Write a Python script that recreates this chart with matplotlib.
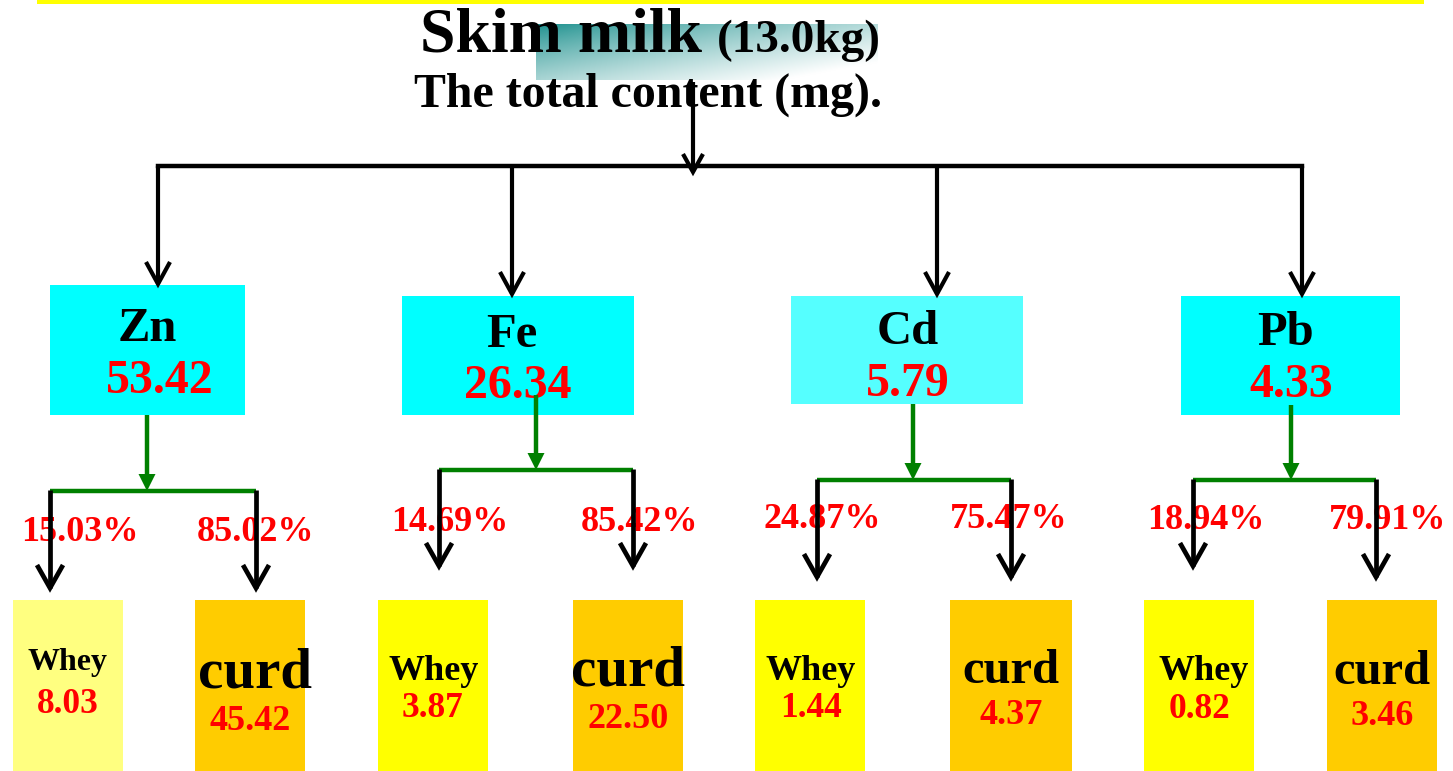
import numpy as np
import matplotlib
matplotlib.use("Agg")
import matplotlib.pyplot as plt
from matplotlib.patches import Rectangle, Polygon

# ---------------- data ----------------
title_main = "Skim milk"
title_mass = "(13.0kg)"
subtitle = "The total content (mg)."
elements = ["Zn", "Fe", "Cd", "Pb"]
totals = [53.42, 26.34, 5.79, 4.33]
whey_pct = [15.03, 14.69, 24.87, 18.94]
curd_pct = [85.02, 85.42, 75.47, 79.91]
whey_mg = [8.03, 3.87, 1.44, 0.82]
curd_mg = [45.42, 22.50, 4.37, 3.46]
whey_label = "Whey"
curd_label = "curd"

# ---------------- layout (pixel coordinates) ----------------
W, H = 1453, 771
box_l = [50, 402, 791, 1181]
box_r = [245, 634, 1023, 1400]
box_t = [285, 296, 296, 296]
box_b = [415, 415, 404, 415]
box_colors = ["#00ffff", "#00ffff", "#55ffff", "#00ffff"]
top_x = [158, 512, 937, 1302]
top_tip = [284, 294, 294, 294]
name_x = [147, 512, 908, 1285]
name_y = [341, 347, 344, 345]
total_x = [160, 518, 908, 1291]
total_y = [393, 398, 396, 397]
green_x = [147, 536, 913, 1291]
green_top = [415, 395, 404, 405]
green_y = [491, 470, 480, 480]
split_l = [50, 439, 817, 1193]
split_r = [256, 633, 1011, 1376]
tip_l = [588, 566, 577, 566]
tip_r = [588, 566, 577, 577]
pct_l_x = [80, 450, 822, 1206]
pct_r_x = [255, 639, 1009, 1388]
pct_y = [541, 531, 528, 529]
whey_l = [13, 378, 755, 1144]
whey_r = [123, 488, 865, 1254]
curd_l = [195, 573, 950, 1327]
curd_r = [305, 683, 1072, 1437]
low_top = 600
whey_colors = ["#ffff80", "#ffff00", "#ffff00", "#ffff00"]
whey_lx = [68, 434, 811, 1204]
whey_ly = [670, 680, 680, 680]
whey_ls = [23, 26, 26, 26]
whey_vx = [68, 432, 811, 1199]
whey_vy = [713, 717, 717, 718]
curd_lx = [255, 628, 1011, 1382]
curd_ly = [687, 686, 683, 684]
curd_ls = [41, 41, 35, 35]
curd_vx = [250, 628, 1011, 1382]
curd_vy = [730, 728, 724, 725]

FONT = "Liberation Serif"
RED = "#ff0000"
GREEN = "#008000"

fig = plt.figure(figsize=(W / 100, H / 100), dpi=100)
ax = fig.add_axes([0, 0, 1, 1])
ax.set_xlim(0, W)
ax.set_ylim(H, 0)
ax.axis("off")


def txt(x, y, s, size, color="black"):
    ax.text(x, y, s, fontsize=size, color=color, family=FONT,
            fontweight="bold", ha="center", va="baseline", zorder=3)


def open_arrow(x, y0, y1, lw=3.0, hw=12, hl=22, color="black"):
    ax.plot([x, x], [y0, y1], color=color, lw=lw, solid_capstyle="butt", zorder=5)
    ax.plot([x - hw, x, x + hw], [y1 - hl, y1, y1 - hl], color=color, lw=lw,
            solid_joinstyle="miter", solid_capstyle="butt", zorder=5)


# top yellow line
ax.add_patch(Rectangle((37, 0), 1387, 3.5, color="#ffff00", lw=0, zorder=1))

# gradient rectangle behind title
gx = np.linspace(0, 1, 200)
gy = np.linspace(0, 1, 60)
GX, GY = np.meshgrid(gx, gy)
t = np.clip(0.62 * GX + 0.55 * GY, 0, 1) ** 0.8
teal = np.array([0.10, 0.56, 0.55])
white = np.array([1.0, 1.0, 1.0])
img = teal[None, None, :] * (1 - t[..., None]) + white[None, None, :] * t[..., None]
ax.imshow(img, extent=(536, 878, 80, 24), aspect="auto", zorder=1, interpolation="bilinear")

# title texts
ax.text(420, 52, title_main, fontsize=46, family=FONT, fontweight="bold",
        ha="left", va="baseline", zorder=3)
ax.text(717, 52, title_mass, fontsize=34, family=FONT, fontweight="bold",
        ha="left", va="baseline", zorder=3)
ax.text(648, 107, subtitle, fontsize=34.5, family=FONT, fontweight="bold",
        ha="center", va="baseline", zorder=3)

# central arrow and bar
open_arrow(693, 82, 172, lw=3.0, hw=10, hl=18)
ax.plot([top_x[0], top_x[-1]], [166, 166], color="black", lw=3.2, zorder=5,
        solid_capstyle="projecting")

for i in range(4):
    open_arrow(top_x[i], 166, top_tip[i])
    # element box
    ax.add_patch(Rectangle((box_l[i], box_t[i]), box_r[i] - box_l[i],
                           box_b[i] - box_t[i], color=box_colors[i], lw=0, zorder=1))
    txt(name_x[i], name_y[i], elements[i], 35)
    txt(total_x[i], total_y[i], f"{totals[i]:.2f}", 34.5, RED)
    # green split arrow
    gyv = green_y[i]
    ax.plot([green_x[i], green_x[i]], [green_top[i], gyv - 14], color=GREEN, lw=3.2,
            solid_capstyle="butt", zorder=5)
    ax.add_patch(Polygon([[green_x[i] - 8.5, gyv - 17], [green_x[i] + 8.5, gyv - 17],
                          [green_x[i], gyv]], closed=True, color=GREEN, lw=0, zorder=5))
    ax.plot([split_l[i], split_r[i]], [gyv, gyv], color=GREEN, lw=3.2,
            solid_capstyle="butt", zorder=5)
    # black arrows to whey / curd
    open_arrow(split_l[i], gyv - 1.5, tip_l[i], lw=3.4, hw=13, hl=23)
    open_arrow(split_r[i], gyv - 1.5, tip_r[i], lw=3.4, hw=13, hl=23)
    txt(pct_l_x[i], pct_y[i], f"{whey_pct[i]:.2f}%", 26, RED)
    txt(pct_r_x[i], pct_y[i], f"{curd_pct[i]:.2f}%", 26, RED)
    # whey & curd boxes
    ax.add_patch(Rectangle((whey_l[i], low_top), whey_r[i] - whey_l[i], H - low_top,
                           color=whey_colors[i], lw=0, zorder=1))
    ax.add_patch(Rectangle((curd_l[i], low_top), curd_r[i] - curd_l[i], H - low_top,
                           color="#ffcc00", lw=0, zorder=1))
    txt(whey_lx[i], whey_ly[i], whey_label, whey_ls[i])
    txt(whey_vx[i], whey_vy[i], f"{whey_mg[i]:.2f}", 25.5, RED)
    txt(curd_lx[i], curd_ly[i], curd_label, curd_ls[i])
    txt(curd_vx[i], curd_vy[i], f"{curd_mg[i]:.2f}", 26, RED)

fig.savefig("out.png", dpi=100)
